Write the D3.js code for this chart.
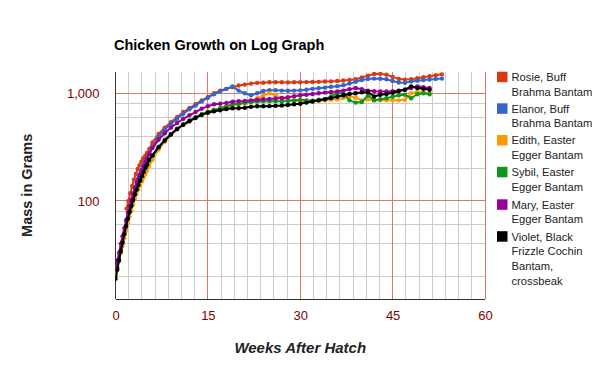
<!DOCTYPE html>
<html>
<head>
<meta charset="utf-8">
<script src="https://cdn.jsdelivr.net/npm/d3@7"></script>
<style>
  body { margin: 0; background: #fff; }
  text { font-family: "Liberation Sans", Arial, sans-serif; }
</style>
</head>
<body>
<div id="chart"></div>
<script>
// first weeks were weighed every 2 days
const earlyWeeks = [0, 0.29, 0.57, 0.86, 1.14, 1.43, 1.71, 2, 2.29, 2.57, 2.86, 3.14, 3.43, 3.71, 4, 4.29, 4.57, 4.86, 5.14, 5.43];

const rosieEarly = [[1.8, 85], [2.1, 100], [2.4, 118], [2.7, 138], [3, 158], [3.3, 178], [3.6, 198], [3.9, 215], [4.2, 232], [4.5, 248], [4.8, 262], [5.1, 280], [5.5, 305]];
const elanorEarly = [[2, 70], [2.3, 85], [2.6, 100], [2.9, 118], [3.2, 135], [3.5, 155], [3.8, 172], [4.1, 190], [4.4, 210], [4.7, 228], [5, 245], [5.5, 280]];
const edithEarly = [21, 24, 28, 33, 38, 45, 53, 62, 72, 82, 93, 105, 117, 128, 140, 152, 165, 178, 192, 210];
const sybilEarly = [20, 24, 29, 35, 42, 50, 59, 69, 80, 91, 103, 115, 128, 141, 155, 170, 186, 203, 218, 238];
const maryEarly = [24, 28, 33, 40, 47, 56, 66, 78, 90, 103, 117, 132, 147, 162, 178, 194, 212, 230, 248, 270];
const violetEarly = [19, 23, 28, 34, 41, 49, 58, 68, 79, 90, 102, 115, 128, 141, 155, 170, 186, 205, 218, 240];

// weekly weights from week 6 on
const rosieWeekly = [350, 420, 480, 540, 600, 670, 730, 790, 860, 920,
  1000, 1060, 1100, 1140, 1180, 1205, 1230, 1250, 1255, 1265,
  1265, 1265, 1262, 1265, 1268, 1270, 1272, 1278, 1285, 1290,
  1300, 1315, 1330, 1350, 1400, 1460, 1510, 1515, 1490, 1420,
  1360, 1340, 1350, 1380, 1410, 1440, 1470, 1500];
const elanorWeekly = [320, 395, 460, 520, 580, 645, 710, 770, 840, 910,
  980, 1040, 1100, 1160, 1060, 1000, 960, 1000, 1050, 1070,
  1070, 1060, 1055, 1060, 1065, 1080, 1100, 1115, 1130, 1150,
  1165, 1190, 1230, 1280, 1330, 1360, 1370, 1365, 1350, 1300,
  1260, 1250, 1290, 1310, 1330, 1345, 1360, 1370];
const edithWeekly = [240, 300, 355, 410, 460, 510, 555, 600, 640, 680,
  700, 715, 740, 770, 790, 810, 850, 900, 950, 1000,
  960, 900, 870, 850, 843, 843, 845, 850, 860, 870,
  880, 905, 935, 910, 860, 880, 860, 860, 860, 860,
  860, 870, 1000, 1030, 1020, 1000];
const sybilWeekly = [265, 320, 370, 420, 470, 515, 560, 600, 640, 670,
  700, 726, 760, 790, 800, 815, 830, 840, 843, 843,
  843, 845, 850, 860, 870, 860, 855, 870, 880, 940,
  1000, 1000, 860, 820, 830, 960, 860, 880, 900, 930,
  960, 970, 900, 980, 1000, 980];
const maryWeekly = [310, 370, 425, 480, 530, 580, 625, 670, 720, 760,
  790, 800, 815, 835, 845, 850, 860, 870, 880, 885,
  895, 905, 920, 940, 958, 970, 985, 1000, 1015, 1028,
  1040, 1060, 1090, 1120, 1090, 1060, 1045, 1040, 1040, 1045,
  1060, 1080, 1120, 1160, 1140, 1120];
const violetWeekly = [265, 315, 365, 415, 465, 510, 550, 590, 630, 660,
  680, 695, 715, 726, 726, 735, 750, 757, 757, 760,
  765, 770, 780, 790, 800, 820, 840, 860, 880, 905,
  930, 960, 985, 1000, 1020, 1028, 935, 970, 985, 1010,
  1050, 1080, 1160, 1120, 1100, 1080];

const names = ["Rosie, Buff Brahma Bantam", "Elanor, Buff Brahma Bantam", "Edith, Easter Egger Bantam",
  "Sybil, Easter Egger Bantam", "Mary, Easter Egger Bantam", "Violet, Black Frizzle Cochin Bantam, crossbeak"];
const legendLines = [["Rosie, Buff", "Brahma Bantam"], ["Elanor, Buff", "Brahma Bantam"], ["Edith, Easter", "Egger Bantam"],
  ["Sybil, Easter", "Egger Bantam"], ["Mary, Easter", "Egger Bantam"], ["Violet, Black", "Frizzle Cochin", "Bantam,", "crossbeak"]];
const colors = ["#dc3912", "#3366cc", "#ff9900", "#109618", "#990099", "#000000"];
const xTicks = [0, 15, 30, 45, 60];
const yTicks = [100, 1000];
const yMinor = [20, 40, 60, 80, 200, 400, 600, 800];

function weekly(values) {
  return values.map((g, i) => [6 + i, g]);
}
function early(values) {
  return values.map((g, i) => [earlyWeeks[i], g]);
}

const series = [
  rosieEarly.concat(weekly(rosieWeekly)),
  elanorEarly.concat(weekly(elanorWeekly)),
  early(edithEarly).concat(weekly(edithWeekly)),
  early(sybilEarly).concat(weekly(sybilWeekly)),
  early(maryEarly).concat(weekly(maryWeekly)),
  early(violetEarly).concat(weekly(violetWeekly)),
];

const width = 600, height = 371;
const margin = { left: 115.5, right: 115, top: 71.7, bottom: 72 };

const svg = d3.select("#chart").append("svg")
  .attr("width", width).attr("height", height);

const x = d3.scaleLinear().domain([0, 60]).range([margin.left, width - margin.right]);
const y = d3.scaleLog().domain([12.3, 1587]).range([height - margin.bottom, margin.top]);

// minor grid
const minorX = [];
for (let i = 0; i < 4; i++) for (let j = 1; j < 7; j++) minorX.push(i * 15 + j * 15 / 7);

const grid = svg.append("g");
grid.selectAll(".vmin").data(minorX).join("line")
  .attr("x1", d => x(d)).attr("x2", d => x(d))
  .attr("y1", margin.top).attr("y2", height - margin.bottom)
  .attr("stroke", "#cccccc").attr("shape-rendering", "crispEdges");
grid.selectAll(".hmin").data(yMinor).join("line")
  .attr("x1", margin.left).attr("x2", width - margin.right)
  .attr("y1", d => y(d)).attr("y2", d => y(d))
  .attr("stroke", "#cccccc").attr("shape-rendering", "crispEdges");

// major grid
grid.selectAll(".vmaj").data(xTicks.slice(1)).join("line")
  .attr("x1", d => x(d)).attr("x2", d => x(d))
  .attr("y1", margin.top).attr("y2", height - margin.bottom)
  .attr("stroke", "#dd7766").attr("shape-rendering", "crispEdges");
grid.selectAll(".hmaj").data(yTicks).join("line")
  .attr("x1", margin.left).attr("x2", width - margin.right)
  .attr("y1", d => y(d)).attr("y2", d => y(d))
  .attr("stroke", "#dd7766").attr("shape-rendering", "crispEdges");

// axes lines
svg.append("line")
  .attr("x1", margin.left).attr("x2", margin.left)
  .attr("y1", margin.top).attr("y2", height - margin.bottom)
  .attr("stroke", "#333").attr("shape-rendering", "crispEdges");
svg.append("line")
  .attr("x1", margin.left).attr("x2", width - margin.right)
  .attr("y1", height - margin.bottom).attr("y2", height - margin.bottom)
  .attr("stroke", "#333").attr("shape-rendering", "crispEdges");

// tick labels
const xAxis = d3.axisBottom(x).tickValues(xTicks).tickSize(0).tickPadding(12);
svg.append("g").attr("transform", `translate(0,${height - margin.bottom})`).call(xAxis)
  .call(g => g.select(".domain").remove())
  .selectAll("text").attr("font-size", 13).attr("fill", "#800000")
  .attr("font-family", "Liberation Sans, Arial, sans-serif");

const yAxis = d3.axisLeft(y).tickValues(yTicks).tickFormat(d3.format(",")).tickSize(0).tickPadding(16);
svg.append("g").attr("transform", `translate(${margin.left},0)`).call(yAxis)
  .call(g => g.select(".domain").remove())
  .selectAll("text").attr("font-size", 13).attr("fill", "#800000")
  .attr("font-family", "Liberation Sans, Arial, sans-serif");

// lines
svg.append("clipPath").attr("id", "plot-clip").append("rect")
  .attr("x", margin.left).attr("y", margin.top - 4)
  .attr("width", width - margin.left - margin.right).attr("height", height - margin.top - margin.bottom + 4);

const line = d3.line().x(d => x(d[0])).y(d => y(d[1]));
const plot = svg.append("g").attr("clip-path", "url(#plot-clip)");

series.forEach((data, i) => {
  const g = plot.append("g");
  g.append("path").datum(data)
    .attr("d", line).attr("fill", "none")
    .attr("stroke", colors[i]).attr("stroke-width", 2)
    .attr("stroke-linejoin", "round");
  g.selectAll("circle").data(data).join("circle")
    .attr("cx", d => x(d[0])).attr("cy", d => y(d[1]))
    .attr("r", 2.2).attr("fill", colors[i]);
});

// title
svg.append("text").attr("x", 114).attr("y", 50)
  .attr("font-size", 14.5).attr("font-weight", "bold").attr("fill", "#000")
  .text("Chicken Growth on Log Graph");

svg.append("text")
  .attr("x", (margin.left + width - margin.right) / 2).attr("y", 353)
  .attr("text-anchor", "middle").attr("font-size", 15)
  .attr("font-weight", "bold").attr("font-style", "italic").attr("fill", "#222")
  .text("Weeks After Hatch");

svg.append("text")
  .attr("transform", `translate(32,${(margin.top + height - margin.bottom) / 2}) rotate(-90)`)
  .attr("text-anchor", "middle").attr("font-size", 14.5)
  .attr("font-weight", "bold").attr("fill", "#222")
  .text("Mass in Grams");

// legend
const legendTops = [71.7, 103.3, 135, 166.8, 199.3, 231.2];
const legend = svg.append("g");
legendLines.forEach((lines, i) => {
  legend.append("rect")
    .attr("x", 497).attr("y", legendTops[i])
    .attr("width", 10.5).attr("height", 10.5)
    .attr("fill", colors[i]);
  const t = legend.append("text").attr("font-size", 11.2).attr("fill", "#222");
  lines.forEach((s, k) => {
    t.append("tspan").attr("x", 511.5).attr("y", legendTops[i] + 9.3 + k * 14.7).text(s);
  });
  t.append("title").text(names[i]);
});
</script>
</body>
</html>
